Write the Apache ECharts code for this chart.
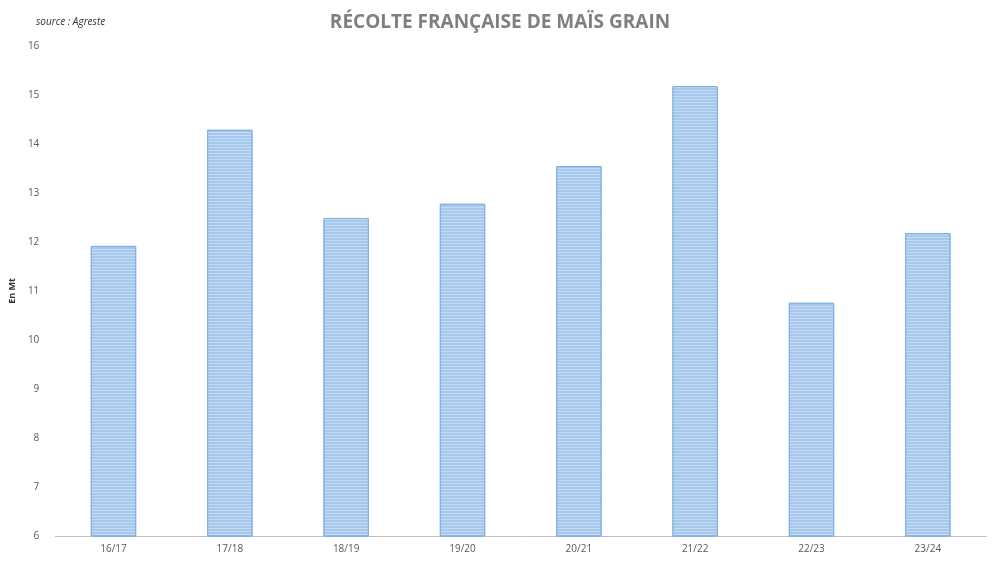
<!DOCTYPE html>
<html>
<head>
    <meta charset="UTF-8">
    <title>Récolte française de maïs grain</title>
    <style>
        html, body { margin: 0; padding: 0; background: #fff; }
        #chart { width: 1000px; height: 562px; }
    </style>
    <script src="https://cdn.jsdelivr.net/npm/echarts@6/dist/echarts.min.js"></script>
</head>
<body>
<div id="chart"></div>
<script type="text/javascript">
    // campagnes et récolte en millions de tonnes
    var campagnes = ["16/17", "17/18", "18/19", "19/20", "20/21", "21/22", "22/23", "23/24"];
    var recolte = [11.92, 14.29, 12.49, 12.78, 13.55, 15.18, 10.76, 12.18];

    var myChart = echarts.init(document.getElementById('chart'));
    var option = {
        animation: false,
        title: [{
            text: 'RÉCOLTE FRANÇAISE DE MAÏS GRAIN',
            left: 'center',
            top: 8,
            textStyle: { fontFamily: 'Open Sans', fontSize: 19, fontWeight: 'bold', color: '#7f7f7f' }
        }, {
            text: 'source : Agreste',
            left: 31,
            top: 12,
            textStyle: { fontFamily: 'Open Sans', fontSize: 10, fontStyle: 'italic', fontWeight: 'normal', color: '#333' }
        }],
        grid: { left: 50, right: 14, top: 46, bottom: 26 },
        xAxis: {
            type: 'category',
            data: campagnes,
            axisTick: { show: false },
            axisLine: { lineStyle: { color: '#bfbfbf' } },
            axisLabel: { color: '#595959', fontFamily: 'Open Sans', fontSize: 10, margin: 8 }
        },
        yAxis: {
            type: 'value',
            min: 6, max: 16, interval: 1,
            name: 'En Mt',
            nameLocation: 'middle',
            nameGap: 28,
            nameRotate: 90,
            nameTextStyle: { fontFamily: 'Open Sans', fontSize: 9, fontWeight: 'bold', color: '#333' },
            splitLine: { show: false },
            axisLabel: { color: '#595959', fontFamily: 'Open Sans', fontSize: 10, margin: 16 }
        },
        series: [{
            type: 'bar',
            data: recolte,
            barWidth: '39%',
            itemStyle: {
                color: '#a6c8ec',
                borderColor: '#7eb0e2',
                borderWidth: 1,
                decal: {
                    symbol: 'rect',
                    dashArrayX: [1, 0],
                    dashArrayY: [1, 2],
                    rotation: 0,
                    color: 'rgba(255,255,255,0.35)'
                }
            }
        }]
    };
    myChart.setOption(option);
</script>
</body>
</html>
